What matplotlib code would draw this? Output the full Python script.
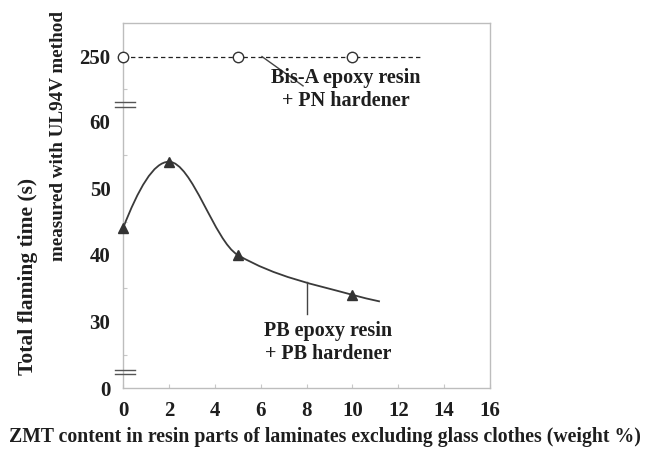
import numpy as np
import matplotlib
matplotlib.use("Agg")
import matplotlib.pyplot as plt
from matplotlib.path import Path
from matplotlib.patches import PathPatch

# ---- data ----
pb_x = [0, 2, 5, 10]
pb_y = [44, 54, 40, 34]
curve_end = (11.2, 33)          # where the drawn trend curve stops
bis_x = [0, 5, 10]
bis_y = [250, 250, 250]
bis_line_end = 13.0
x_ticks = [0, 2, 4, 6, 8, 10, 12, 14, 16]
y_tick_labels = ["0", "30", "40", "50", "60", "250"]

# broken axis mapping: real value -> plotted position
def ymap(v):
    if v >= 200:
        return 69.8
    if v <= 0:
        return 20.0
    return v

FONT = ["Liberation Serif", "DejaVu Serif"]
TXT = "#1e1e1e"

fig = plt.figure(figsize=(6.48, 4.5), dpi=100)
ax = fig.add_axes([123/648, 1 - 388/450, (490 - 123)/648, (388 - 23)/450])
ax.set_xlim(0, 16)
ax.set_ylim(20, 74.85)

for s in ax.spines.values():
    s.set_color("#bdbdbd")
    s.set_linewidth(1.0)

ax.set_xticks(x_ticks)
ax.set_xticklabels([str(t) for t in x_ticks])
ax.set_yticks([ymap(0), 30, 40, 50, 60, ymap(250)])
ax.set_yticklabels(y_tick_labels)
ax.set_yticks([25, 35, 45, 55, 65], minor=True)
ax.tick_params(axis="both", which="both", direction="in", color="#c8c8c8",
               length=3, width=0.8)
ax.tick_params(axis="y", which="major", pad=9, length=0)
ax.tick_params(axis="x", which="major", pad=9)
for lab in ax.get_xticklabels() + ax.get_yticklabels():
    lab.set_fontfamily(FONT)
    lab.set_fontweight("bold")
    lab.set_fontsize(15)
    lab.set_color(TXT)

# ---- PB curve: monotone cubic Hermite drawn as Bezier path ----
cx = np.array(pb_x + [curve_end[0]], dtype=float)
cy = np.array(pb_y + [curve_end[1]], dtype=float)
h = np.diff(cx)
delta = np.diff(cy) / h
n = len(cx)
d = np.zeros(n)
for k in range(1, n - 1):
    if delta[k - 1] * delta[k] <= 0:
        d[k] = 0.0
    else:
        w1 = 2 * h[k] + h[k - 1]
        w2 = h[k] + 2 * h[k - 1]
        d[k] = (w1 + w2) / (w1 / delta[k - 1] + w2 / delta[k])
d[0] = ((2 * h[0] + h[1]) * delta[0] - h[0] * delta[1]) / (h[0] + h[1])
d[-1] = ((2 * h[-1] + h[-2]) * delta[-1] - h[-1] * delta[-2]) / (h[-1] + h[-2])
verts = [(cx[0], cy[0])]
codes = [Path.MOVETO]
for k in range(n - 1):
    verts += [(cx[k] + h[k] / 3, cy[k] + d[k] * h[k] / 3),
              (cx[k + 1] - h[k] / 3, cy[k + 1] - d[k + 1] * h[k] / 3),
              (cx[k + 1], cy[k + 1])]
    codes += [Path.CURVE4] * 3
ax.add_patch(PathPatch(Path(verts, codes), facecolor="none",
                       edgecolor="#3a3a3a", linewidth=1.3, zorder=2))
ax.plot(pb_x, pb_y, linestyle="none", marker="^", markersize=7,
        color="#333333", clip_on=False, zorder=4)

# ---- Bis-A line ----
yb = [ymap(v) for v in bis_y]
ax.plot([bis_x[0], bis_line_end], [yb[0], yb[0]], color="#222222",
        linewidth=0.9, dashes=(3.5, 2.5), zorder=2)
ax.plot(bis_x, yb, linestyle="none", marker="o", markersize=7.5,
        markerfacecolor="white", markeredgecolor="#333333",
        markeredgewidth=1.0, clip_on=False, zorder=4)

# ---- axis break marks ----
for yy in (63.0, 62.3, 22.65, 22.1):
    ax.plot([-0.35, 0.52], [yy, yy], color="#555555", linewidth=1.0,
            clip_on=False, zorder=5)

# ---- annotations ----
ax.plot([6.06, 7.85], [ymap(250), 65.4], color="#444444", linewidth=1.0)
ax.text(9.7, 64.9, "Bis-A epoxy resin\n+ PN hardener", ha="center",
        va="center", fontfamily=FONT, fontweight="bold", fontsize=14.5,
        color=TXT, linespacing=1.2)
ax.plot([8.0, 8.0], [36.0, 31.05], color="#444444", linewidth=1.0)
ax.text(8.94, 26.8, "PB epoxy resin\n+ PB hardener", ha="center",
        va="center", fontfamily=FONT, fontweight="bold", fontsize=14.5,
        color=TXT, linespacing=1.2)

# ---- axis labels ----
fig.text(325/648, 1 - 437/450,
         "ZMT content in resin parts of laminates excluding glass clothes (weight %)",
         ha="center", va="center", fontfamily=FONT, fontweight="bold",
         fontsize=14.2, color=TXT)
fig.text(28/648, 1 - 276/450, "Total flaming time (s)", rotation=90,
         ha="center", va="center", fontfamily=FONT, fontweight="bold",
         fontsize=15.5, color=TXT)
fig.text(59/648, 1 - 136/450, "measured with UL94V method", rotation=90,
         ha="center", va="center", fontfamily=FONT, fontweight="bold",
         fontsize=13.8, color=TXT)

fig.savefig("out.png", dpi=100, facecolor="white")
